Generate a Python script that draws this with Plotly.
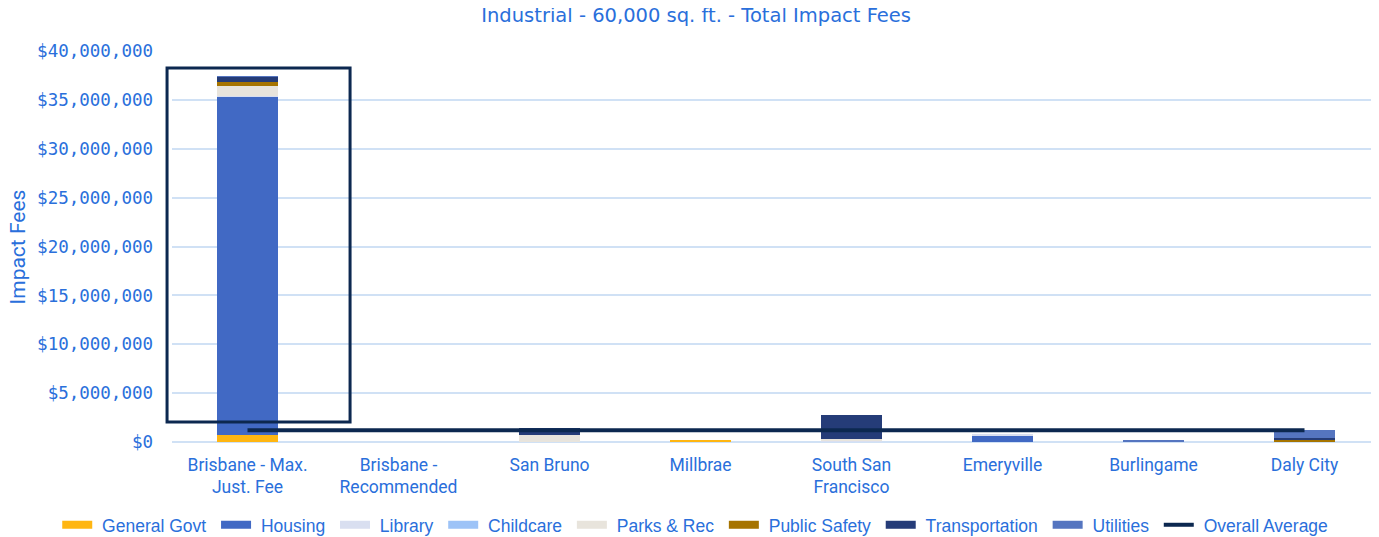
import plotly.graph_objects as go

cities = [
    "Brisbane - Max.<br>Just. Fee", "Brisbane -<br>Recommended", "San Bruno", "Millbrae",
    "South San<br>Francisco", "Emeryville", "Burlingame", "Daly City",
]

general_govt = [690000, 0, 0, 250000, 0, 0, 0, 0]
housing = [34660000, 0, 0, 0, 0, 650000, 0, 0]
library = [70000, 0, 0, 0, 200000, 200000, 0, 0]
childcare = [0, 0, 0, 0, 0, 0, 0, 0]
parks_rec = [980000, 0, 750000, 0, 100000, 0, 0, 70000]
public_safety = [480000, 0, 0, 0, 0, 0, 0, 130000]
transportation = [480000, 0, 700000, 0, 2490000, 0, 80000, 240000]
utilities = [50000, 0, 0, 0, 0, 0, 120000, 780000]
overall_average = [1190000] * 8

series = [
    ("General Govt", general_govt, "#FFB612"),
    ("Housing", housing, "#4169C4"),
    ("Library", library, "#D9DFF0"),
    ("Childcare", childcare, "#9DC3F7"),
    ("Parks & Rec", parks_rec, "#E8E4DC"),
    ("Public Safety", public_safety, "#A67400"),
    ("Transportation", transportation, "#253C78"),
    ("Utilities", utilities, "#5575C0"),
]

blue_text = "#2A6FDB"
navy = "#0C2850"
pad = "\u00a0"

fig = go.Figure()

for name, vals, color in series:
    fig.add_trace(go.Bar(x=cities, y=vals, name=name, marker_color=color,
                         marker_line_width=0, showlegend=False))

fig.add_trace(go.Scatter(x=cities, y=overall_average, mode="lines", name="Overall Average",
                         line=dict(color=navy, width=4), showlegend=False))

# legend entries drawn as wide swatches
for name, vals, color in series:
    fig.add_trace(go.Scatter(x=[None], y=[None], mode="lines", name=pad + name + pad,
                             line=dict(color=color, width=8)))
fig.add_trace(go.Scatter(x=[None], y=[None], mode="lines", name=pad + "Overall Average",
                         line=dict(color=navy, width=4)))

# highlight box around Brisbane max
fig.add_shape(type="rect", xref="paper", yref="paper", x0=-0.0041, x1=0.1474,
              y0=0.0512, y1=0.9565,
              line=dict(color=navy, width=3), fillcolor="rgba(0,0,0,0)")

fig.add_annotation(text="Impact Fees", xref="paper", yref="paper", x=-0.1275, y=0.5,
                   xanchor="center", yanchor="middle", textangle=-90, showarrow=False,
                   font=dict(family="Roboto", size=21, color=blue_text))

fig.update_layout(
    width=1379, height=537,
    barmode="stack", bargap=0.6,
    plot_bgcolor="white", paper_bgcolor="white",
    margin=dict(l=164, r=7, t=43, b=103, autoexpand=False),
    title=dict(text="Industrial - 60,000 sq. ft. - Total Impact Fees", x=0.499, xanchor="center",
               y=0.987, yanchor="middle",
               font=dict(family="DejaVu Sans", size=19.5, color=blue_text)),
    legend=dict(orientation="h", xref="paper", x=-0.095, xanchor="left",
                yref="paper", y=-0.212, yanchor="middle", traceorder="normal",
                font=dict(family="Liberation Sans", size=17.5, color=blue_text),
                itemwidth=30, tracegroupgap=0),
    xaxis=dict(range=[-0.5, 7.5], tickfont=dict(family="Roboto", size=17.5, color=blue_text),
               showgrid=False, showline=False, ticks="", automargin=False, ticklabelstandoff=10),
    yaxis=dict(range=[0, 40e6], dtick=5e6, tickprefix="$", tickformat=",.0f",
               tickfont=dict(family="DejaVu Sans Mono", size=17.5, color=blue_text),
               gridcolor="#D0E1F5", gridwidth=1.5, zeroline=True, zerolinecolor="#D0E1F5",
               zerolinewidth=1.5, showline=False, ticks="", ticklen=0, automargin=False,
               ticklabelstandoff=18),
)

fig.write_html("out.html")
